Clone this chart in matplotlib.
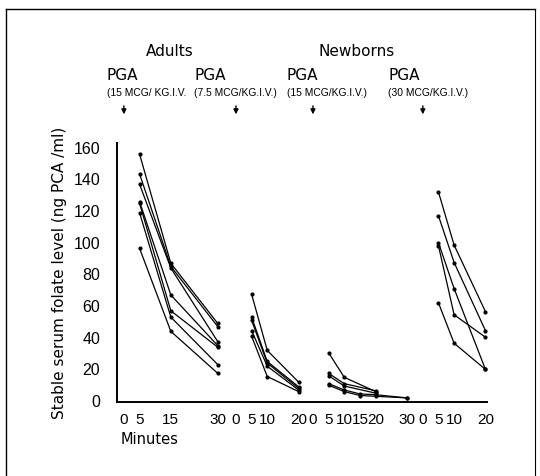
import numpy as np
import matplotlib
matplotlib.use('Agg')
import matplotlib.pyplot as plt
from matplotlib.lines import Line2D
from matplotlib import font_manager

# adults, PGA 15 mcg/kg i.v.
a15_t = [5, 15, 30]
a15 = [[156, 87, 49], [143.5, 85, 47], [137, 84, 37.5], [126, 67, 35],
       [125, 57, 34], [119, 53, 23], [96.5, 44, 17.5]]

# adults, PGA 7.5 mcg/kg i.v.
a75_t = [5, 10, 20]
a75 = [[67.5, 32, 12], [53, 25, 9], [51, 24, 8], [44.5, 22, 7], [41, 15.5, 6]]

# newborns, PGA 15 mcg/kg i.v.
n15_t = [[5, 10, 20], [5, 10, 20], [5, 10, 20], [5, 10, 15, 20, 30], [5, 10, 15, 20, 30]]
n15 = [[30.5, 15, 6], [17.5, 11, 6.5], [16, 9.5, 5], [11, 7, 4.5, 4, 2], [10, 6, 3.5, 3, 2]]

# newborns, PGA 30 mcg/kg i.v.
n30_t = [5, 10, 20]
n30 = [[132, 98.5, 56.5], [117, 87.5, 44.5], [100, 71, 20], [98, 54.5, 40.3], [62, 36.5, 20]]

# each panel starts at its own "0 minutes" along one shared x axis
offsets = [0, 35.8, 60.4, 95.5]
seg_ticks = [[0, 5, 15, 30], [0, 5, 10, 20], [0, 5, 10, 15, 20, 30], [0, 5, 10, 20]]
doses = ['(15 MCG/ KG.I.V.', '(7.5 MCG/KG.I.V.)', '(15 MCG/KG.I.V.)', '(30 MCG/KG.I.V.)']
pga_x = [107, 194, 287, 388]  # left edge of the PGA labels, pixels

installed = {f.name for f in font_manager.fontManager.ttflist}
narrow = 'Liberation Sans Narrow' if 'Liberation Sans Narrow' in installed else 'Liberation Sans'

fig = plt.figure(figsize=(5.4, 4.76), dpi=100)
ax = fig.add_axes([117 / 540, 74 / 476, 370 / 540, 259 / 476])

style = dict(color='black', lw=0.9, marker='o', ms=2)
for v in a15:
    ax.plot(offsets[0] + np.array(a15_t), v, **style)
for v in a75:
    ax.plot(offsets[1] + np.array(a75_t), v, **style)
for t, v in zip(n15_t, n15):
    ax.plot(offsets[2] + np.array(t), v, **style)
for v in n30:
    ax.plot(offsets[3] + np.array(n30_t), v, **style)

ax.set_xlim(-2.2, 116)
ax.set_ylim(-0.6, 163)
ax.spines['top'].set_visible(False)
ax.spines['right'].set_visible(False)
ax.spines['left'].set_linewidth(1.4)
ax.spines['bottom'].set_linewidth(1.4)

xt, xl = [], []
for off, ticks in zip(offsets, seg_ticks):
    for t in ticks:
        xt.append(off + t)
        xl.append(str(t))
ax.set_xticks(xt)
ax.set_xticklabels(xl, fontfamily=narrow, fontsize=11)
ax.set_yticks(range(0, 161, 20))
ax.set_yticklabels([str(v) for v in range(0, 161, 20)], fontfamily=narrow, fontsize=11.5)
ax.tick_params(length=0)
ax.tick_params(axis='y', pad=12)
ax.tick_params(axis='x', pad=8)

ax.set_ylabel('Stable serum folate level (ng PCA /ml)', fontsize=11, labelpad=5)
fig.text(121 / 540, 1 - 440 / 476, 'Minutes', fontsize=10.5, va='center', ha='left')

# group headings
fig.text(170 / 540, 1 - 51 / 476, 'Adults', fontsize=11, ha='center', va='center')
fig.text(357 / 540, 1 - 51 / 476, 'Newborns', fontsize=11, ha='center', va='center')

for off, x0, d in zip(offsets, pga_x, doses):
    fig.text(x0 / 540, 1 - 75 / 476, 'PGA', fontsize=11, ha='left', va='center')
    fig.text(x0 / 540, 1 - 93 / 476, d, fontsize=7.4, fontfamily=narrow, ha='left', va='center')
    ax.annotate('', xy=(off, 1.100), xycoords=('data', 'axes fraction'),
                xytext=(off, 1.154), textcoords=('data', 'axes fraction'),
                arrowprops=dict(arrowstyle='-|>', color='black', lw=1, mutation_scale=7))

# page border
fig.add_artist(Line2D([6 / 540, 535 / 540], [1 - 9 / 476, 1 - 9 / 476], color='black', lw=1))
fig.add_artist(Line2D([6 / 540, 6 / 540], [0, 1 - 9 / 476], color='black', lw=1))
fig.add_artist(Line2D([535 / 540, 535 / 540], [0, 1 - 9 / 476], color='black', lw=0.8))

fig.savefig('out.png', dpi=100)
